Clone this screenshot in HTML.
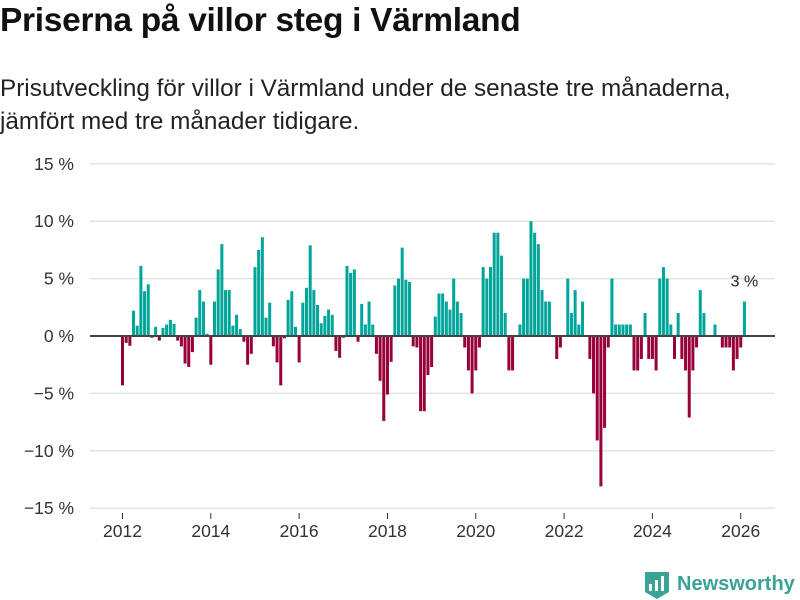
<!DOCTYPE html>
<html><head><meta charset="utf-8"><style>
body{margin:0;background:#fff;font-family:"Liberation Sans",sans-serif;}
#wrap{position:relative;width:800px;height:600px;overflow:hidden}
h1{position:absolute;left:0;top:2px;margin:0;font-size:33.5px;font-weight:bold;color:#111;letter-spacing:-0.3px}
.sub{position:absolute;left:0;top:72px;font-size:24.3px;line-height:33px;color:#222}
svg{position:absolute;left:0;top:0}
</style></head><body>
<div id="wrap">
<h1>Priserna på villor steg i Värmland</h1>
<div class="sub">Prisutveckling för villor i Värmland under de senaste tre månaderna,<br>jämfört med tre månader tidigare.</div>
<svg id="chart" width="800" height="600"></svg>
</div>
<script>
const startYear = 2012;
const values = [-4.3,-0.6,-0.85,2.2,0.9,6.1,3.9,4.5,-0.15,0.8,-0.4,0.7,1.0,1.4,1.05,-0.4,-0.9,-2.4,-2.7,-1.4,1.6,4.0,3.0,0.2,-2.5,3.0,5.8,8.0,4.0,4.0,0.9,1.85,0.6,-0.5,-2.5,-1.55,6.0,7.5,8.6,1.6,2.9,-0.9,-2.3,-4.3,-0.2,3.15,3.9,0.8,-2.3,2.9,4.2,7.9,4.0,2.7,1.1,1.75,2.3,1.85,-1.3,-1.9,-0.15,6.1,5.5,5.8,-0.5,2.8,1.0,3.0,1.0,-1.55,-3.9,-7.4,-5.1,-2.25,4.4,5.0,7.7,4.9,4.7,-0.9,-1.0,-6.55,-6.55,-3.4,-2.7,1.7,3.7,3.7,3.0,2.3,5.0,3.0,2.0,-1.0,-3.0,-5.0,-3.0,-1.0,6.0,5.0,6.0,9.0,9.0,7.0,2.0,-3.0,-3.0,0,1.0,5.0,5.0,10.0,9.0,8.0,4.0,3.0,3.0,0,-2.0,-1.0,0,5.0,2.0,4.0,1.0,3.0,0,-2.0,-5.0,-9.1,-13.1,-8.0,-1.0,5.0,1.0,1.0,1.0,1.0,1.0,-3.0,-3.0,-2.0,2.0,-2.0,-2.0,-3.0,5.0,6.0,5.0,1.0,-2.0,2.0,-2.0,-3.0,-7.1,-3.0,-1.0,4.0,2.0,0,0,1.0,0,-1.0,-1.0,-1.0,-3.0,-2.0,-1.0,3.0];
const yTicks = [15,10,5,0,-5,-10,-15];
const xTickYears = [2012,2014,2016,2018,2020,2022,2024,2026];
const lastLabel = "3 %";

const NS="http://www.w3.org/2000/svg";
const svg=document.getElementById('chart');
const x = m => 122.5 + m*3.68;
const y = v => 336 - v*(57.4/5);
function el(t,a,p){const e=document.createElementNS(NS,t);for(const k in a)e.setAttribute(k,a[k]);(p||svg).appendChild(e);return e;}
yTicks.forEach(t=>{
  const g=el('line',{x1:90,x2:775,y1:y(t),y2:y(t),stroke:'#e3e3e3','stroke-width':1.5});
  
  
  const l=el('text',{x:74,y:y(t)+6,'text-anchor':'end','font-size':17.5,fill:'#333'});
  l.textContent=(t<0?'−'+(-t):t)+' %';
  
  
});
values.forEach((v,i)=>{
  const top=Math.min(y(v),y(0)),h=Math.abs(y(v)-y(0));
  const r=el('rect',{x:x(i)-1.5,y:top,width:3,height:h,fill:v>=0?'#00a59a':'#970038'});
  
  
});
const z=el('line',{x1:90,x2:775,y1:y(0),y2:y(0),stroke:'#444','stroke-width':2});


xTickYears.forEach(yr=>{
  const xx=x((yr-startYear)*12);
  const tk=el('line',{x1:xx,x2:xx,y1:513,y2:519,stroke:'#333','stroke-width':1});
  
  
  const l=el('text',{x:xx,y:537,'text-anchor':'middle','font-size':17.5,fill:'#333'});
  l.textContent=yr;
  
  
});
const last=values.length-1;
const ll=el('text',{x:x(last),y:y(values[last])-15,'text-anchor':'middle','font-size':16,fill:'#222'});
ll.textContent=lastLabel;


const lg=el('g',{});


el('path',{d:'M645 572 h24 v20 l-12 7 l-12 -7 z',fill:'#3aa397'},lg);
el('rect',{x:649,y:584,width:3,height:7,fill:'#fff'},lg);
el('rect',{x:655,y:580,width:3,height:11,fill:'#fff'},lg);
el('rect',{x:661,y:576,width:3,height:15,fill:'#fff'},lg);
const lt=el('text',{x:677,y:590,'font-size':20,'font-weight':'bold',fill:'#3aa397'},lg);
lt.textContent='Newsworthy';
</script>
</body></html>
